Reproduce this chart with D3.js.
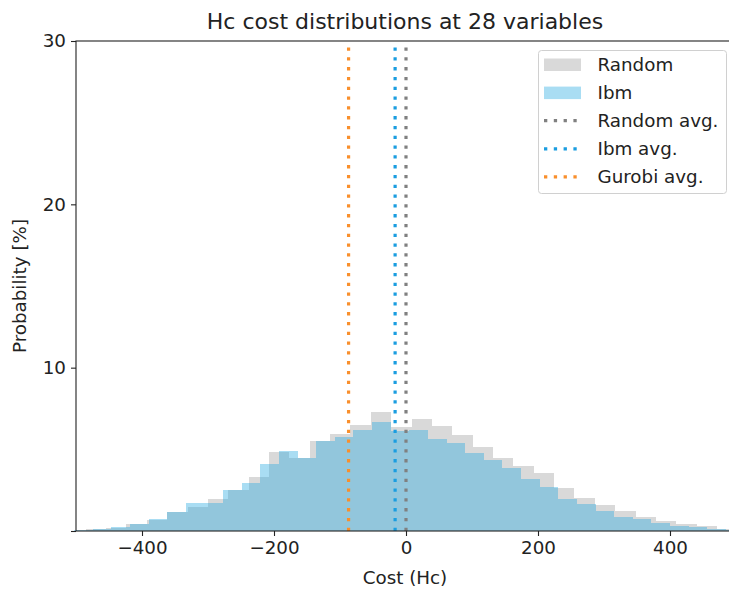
<!DOCTYPE html>
<html>
<head>
<meta charset="utf-8">
<script src="https://cdn.jsdelivr.net/npm/d3@7"></script>
<style>
  body { margin: 0; background: #fff; }
  svg { font-family: "DejaVu Sans", sans-serif; }
</style>
</head>
<body>
<svg id="chart" width="729" height="592"></svg>
<script>
// histogram bin edges (Hc cost) and heights (%)
const randomEdges = [-516.2, -485.3, -454.5, -423.6, -392.8, -361.9, -331.0, -300.2, -269.3, -238.5,
  -207.6, -176.7, -145.9, -115.0, -84.2, -53.3, -22.4, 8.4, 39.3, 70.1, 101.0, 131.9, 162.7, 193.6,
  224.4, 255.3, 286.2, 317.0, 347.9, 378.7, 409.6, 440.5, 471.3, 502.2];
const randomProb = [0.03, 0.1, 0.2, 0.4, 0.68, 1.18, 1.45, 1.96, 2.51, 3.33, 4.86, 4.49, 5.51, 5.92,
  6.49, 7.31, 6.39, 6.84, 6.43, 5.88, 5.12, 4.45, 3.98, 3.57, 2.61, 2.04, 1.59, 1.2, 0.86, 0.62,
  0.41, 0.31, 0.14];

const ibmEdges = [-502.7, -474.5, -446.3, -418.1, -389.9, -361.7, -333.4, -305.2, -277.0, -248.8,
  -220.6, -192.4, -164.2, -136.0, -107.8, -79.6, -51.3, -23.1, 5.1, 33.3, 61.5, 89.7, 117.9, 146.1,
  174.3, 202.5, 230.8, 259.0, 287.2, 315.4, 343.6, 371.8, 400.0, 428.2, 456.4, 484.6, 512.9];
const ibmProb = [0.06, 0.12, 0.25, 0.43, 0.71, 1.18, 1.69, 1.69, 2.51, 2.92, 4.12, 4.88, 4.49, 5.51,
  5.78, 6.18, 6.65, 6.12, 6.18, 5.61, 5.37, 4.8, 4.33, 3.84, 3.17, 2.67, 1.94, 1.63, 1.2, 0.86,
  0.76, 0.47, 0.33, 0.25, 0.14, 0.06];

// averages
const avgNames = ["Random avg.", "Ibm avg.", "Gurobi avg."];
const avgValues = [0, -16.5, -87];

const xTicks = [-400, -200, 0, 200, 400];
const yTicks = [0, 10, 20, 30];
const yTickLabels = ["", "10", "20", "30"];

const svg = d3.select("#chart");
const m = {left: 76, top: 41, right: 736, bottom: 531};
const fs = 18.3;

const x = d3.scaleLinear().domain([-500, 500]).range([m.left, m.right]);
const y = d3.scaleLinear().domain([0, 30]).range([m.bottom, m.top]);

const gray = "#808080", ibmCol = "rgb(40,170,225)";
const lineCols = ["#808080", "#1a9de0", "#f98f2c"];

function bins(edges, vals) {
  return vals.map((v, i) => ({x0: edges[i], x1: edges[i + 1], v: v}));
}

// random histogram
svg.append("g").selectAll("rect")
  .data(bins(randomEdges, randomProb))
  .join("rect")
  .attr("x", d => x(d.x0))
  .attr("width", d => x(d.x1) - x(d.x0))
  .attr("y", d => y(d.v))
  .attr("height", d => y(0) - y(d.v))
  .attr("fill", gray)
  .attr("fill-opacity", 0.3)
  .attr("shape-rendering", "crispEdges");

// ibm histogram
svg.append("g").selectAll("rect")
  .data(bins(ibmEdges, ibmProb))
  .join("rect")
  .attr("x", d => x(d.x0))
  .attr("width", d => x(d.x1) - x(d.x0))
  .attr("y", d => y(d.v))
  .attr("height", d => y(0) - y(d.v))
  .attr("fill", ibmCol)
  .attr("fill-opacity", 0.4)
  .attr("shape-rendering", "crispEdges");

// average lines
svg.append("g").selectAll("line")
  .data(avgValues)
  .join("line")
  .attr("x1", d => x(d)).attr("x2", d => x(d))
  .attr("y1", y(0)).attr("y2", y(30))
  .attr("stroke", (d, i) => lineCols[i])
  .attr("stroke-width", 3.2)
  .attr("stroke-dasharray", "3.3,6.5");

// axes
const xAxis = svg.append("g")
  .attr("transform", `translate(0,${m.bottom})`)
  .call(d3.axisBottom(x).tickValues(xTicks).tickSize(5).tickPadding(5)
    .tickFormat(d => d3.format("d")(d).replace("-", "\u2212")));
const yAxis = svg.append("g")
  .attr("transform", `translate(${m.left},0)`)
  .call(d3.axisLeft(y).tickValues(yTicks).tickSize(5).tickPadding(5)
    .tickFormat((d, i) => yTickLabels[i]));

[xAxis, yAxis].forEach(a => {
  a.select(".domain").remove();
  a.selectAll("line").attr("stroke", "#222").attr("stroke-width", 1.1);
  a.selectAll("text").attr("font-size", fs).attr("fill", "#222")
    .attr("font-family", "DejaVu Sans");
});

// spines
const spine = svg.append("g").attr("stroke", "#222").attr("stroke-width", 1.1).attr("fill", "none");
spine.append("rect").attr("x", m.left).attr("y", m.top)
  .attr("width", m.right - m.left).attr("height", m.bottom - m.top);

// labels
svg.append("text").attr("x", (m.left + m.right) / 2 - 1).attr("y", 29)
  .attr("text-anchor", "middle").attr("font-size", 22).attr("fill", "#222")
  .text("Hc cost distributions at 28 variables");
svg.append("text").attr("x", (m.left + m.right) / 2 - 1).attr("y", 584)
  .attr("text-anchor", "middle").attr("font-size", fs).attr("fill", "#222")
  .text("Cost (Hc)");
svg.append("text")
  .attr("transform", `translate(26,${(m.top + m.bottom) / 2}) rotate(-90)`)
  .attr("text-anchor", "middle").attr("font-size", fs).attr("fill", "#222")
  .text("Probability [%]");

// legend
const legend = svg.append("g").attr("transform", "translate(538.5,50.5)");
legend.append("rect").attr("width", 188).attr("height", 143).attr("rx", 3)
  .attr("fill", "#fff").attr("fill-opacity", 0.8)
  .attr("stroke", "#d0d0d0").attr("stroke-width", 1);

const legItems = [
  {name: "Random", kind: "patch", color: gray, op: 0.3},
  {name: "Ibm", kind: "patch", color: ibmCol, op: 0.4},
  ...avgNames.map((n, i) => ({name: n, kind: "line", color: lineCols[i]}))
];
const row = legend.selectAll("g.item").data(legItems).join("g")
  .attr("class", "item")
  .attr("transform", (d, i) => `translate(0,${14 + i * 28.1})`);
row.filter(d => d.kind === "patch").append("rect")
  .attr("x", 5.5).attr("y", -6).attr("width", 37).attr("height", 12.5)
  .attr("fill", d => d.color).attr("fill-opacity", d => d.op);
row.filter(d => d.kind === "line").append("line")
  .attr("x1", 5.5).attr("x2", 42.5).attr("y1", 0).attr("y2", 0)
  .attr("stroke", d => d.color).attr("stroke-width", 3.2)
  .attr("stroke-dasharray", "3.3,6.5");
row.append("text").attr("x", 59).attr("y", 0).attr("dy", "0.35em")
  .attr("font-size", fs).attr("fill", "#222")
  .text(d => d.name);
</script>
</body>
</html>
